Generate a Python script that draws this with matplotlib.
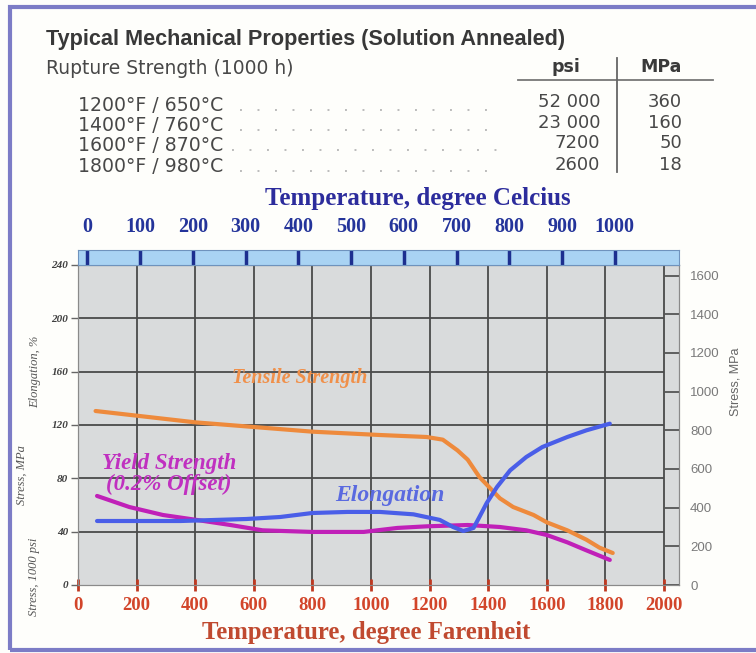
import matplotlib
matplotlib.use("Agg")
import matplotlib.pyplot as plt
from matplotlib.lines import Line2D
from matplotlib.patches import Rectangle

W, H = 756, 653

# 持久强度表
RUPTURE_TEMPS = ["1200°F / 650°C", "1400°F / 760°C", "1600°F / 870°C", "1800°F / 980°C"]
RUPTURE_PSI = ["52 000", "23 000", "7200", "2600"]
RUPTURE_MPA = ["360", "160", "50", "18"]

# 曲线数据 (°F, ksi / %)
TENSILE_F = [60, 400, 600, 800, 1030, 1190, 1245, 1295, 1330, 1370, 1405, 1440,
             1485, 1555, 1600, 1670, 1735, 1780, 1825]
TENSILE_KSI = [130.5, 122, 118.5, 115, 112.5, 111, 109, 101, 94, 81, 73, 65,
               58.5, 52.5, 47, 41, 34, 28, 24]

YIELD_F = [65, 175, 290, 405, 520, 630, 800, 975, 1090, 1190, 1330, 1440,
           1530, 1600, 1670, 1735, 1815]
YIELD_KSI = [66.8, 58.5, 52.5, 48.8, 45, 41, 39.8, 39.8, 42.8, 44, 45, 43.5,
             41, 37.5, 32, 26, 18.8]

ELONG_F = [65, 350, 575, 690, 800, 920, 1030, 1145, 1235, 1280, 1315, 1350,
           1370, 1395, 1430, 1475, 1530, 1585, 1670, 1735, 1815]
ELONG_PCT = [48, 48, 49.5, 51, 54, 54.8, 54.8, 53, 48.8, 43.5, 40.5, 42.8,
             51, 61.5, 73.5, 86, 96, 103.5, 111, 116, 121]

# 刻度
F_TICKS = [0, 200, 400, 600, 800, 1000, 1200, 1400, 1600, 1800, 2000]
C_TICKS = [0, 100, 200, 300, 400, 500, 600, 700, 800, 900, 1000]
KSI_TICKS = [0, 40, 80, 120, 160, 200, 240]
MPA_TICKS = [0, 200, 400, 600, 800, 1000, 1200, 1400, 1600]

SERIF = "Liberation Serif"
SANS = "Liberation Sans"
WIDE_SANS = "DejaVu Sans"
X_MAX = 601 / 0.293
KSI_TO_MPA = 6.895


def fx(px):
    return px / W


def fy(py):
    return 1 - py / H


def draw_table(fig):
    fig.text(fx(46), fy(45), "Typical Mechanical Properties (Solution Annealed)",
             family=SANS, weight="bold", size=15.6, color="#383838", va="baseline")
    fig.text(fx(46), fy(74), "Rupture Strength (1000 h)",
             family=WIDE_SANS, size=13.5, color="#484848", va="baseline")
    fig.text(fx(566), fy(72), "psi", family=WIDE_SANS, weight="bold", size=12.5,
             color="#3a3a3a", ha="center", va="baseline")
    fig.text(fx(661), fy(72), "MPa", family=WIDE_SANS, weight="bold", size=12.5,
             color="#3a3a3a", ha="center", va="baseline")
    fig.add_artist(Line2D([fx(518), fx(713)], [fy(80), fy(80)], color="#777777", lw=1.3))
    fig.add_artist(Line2D([fx(617), fx(617)], [fy(58), fy(172)], color="#666666", lw=1.3))

    label_y = [111, 131, 151, 172]
    value_y = [107, 128, 148, 170]
    for i in range(len(RUPTURE_TEMPS)):
        fig.text(fx(78), fy(label_y[i]), RUPTURE_TEMPS[i], family=WIDE_SANS, size=13.6,
                 color="#484848", va="baseline")
        fig.text(fx(600), fy(value_y[i]), RUPTURE_PSI[i], family=WIDE_SANS, size=13,
                 color="#484848", va="baseline", ha="right")
        fig.text(fx(682), fy(value_y[i]), RUPTURE_MPA[i], family=WIDE_SANS, size=13,
                 color="#484848", va="baseline", ha="right")
        start = 232 if i == 2 else 240
        fig.add_artist(Line2D([fx(start), fx(498)], [fy(label_y[i] - 1)] * 2,
                              color="#bcbcbc", lw=1.4, linestyle=(0, (1, 8))))


def main():
    fig = plt.figure(figsize=(W / 100, H / 100), dpi=100)
    fig.patch.set_facecolor("#fefefb")

    draw_table(fig)

    # 主图
    ax = fig.add_axes([fx(78), fy(585), 601 / W, 320 / H])
    ax.set_facecolor("#d9dbdc")
    ax.set_xlim(0, X_MAX)
    ax.set_ylim(0, 240)
    ax.vlines(F_TICKS[1:], 0, 240, color="#4a4a4a", lw=1.3, zorder=1)
    ax.hlines(KSI_TICKS[1:-1], 0, 2000, color="#4a4a4a", lw=1.3, zorder=1)
    for s in ax.spines.values():
        s.set_color("#8a8a8a")

    ax.plot(TENSILE_F, TENSILE_KSI, color="#ee8a3c", lw=3, solid_capstyle="round", zorder=3)
    ax.plot(YIELD_F, YIELD_KSI, color="#c020b8", lw=3, solid_capstyle="round", zorder=3)
    ax.plot(ELONG_F, ELONG_PCT, color="#4a5ee8", lw=3, solid_capstyle="round", zorder=4)

    ax.text(758, 155, "Tensile Strength", family=SERIF, style="italic", weight="bold",
            size=14.5, color="#f0904a", ha="center", va="center")
    ax.text(311, 83, "Yield Strength\n(0.2% Offset)", family=SERIF, style="italic",
            weight="bold", size=16.5, color="#c030c0", ha="center", va="center",
            linespacing=1.0)
    ax.text(1066, 67.5, "Elongation", family=SERIF, style="italic", weight="bold",
            size=17, color="#5a6ae0", ha="center", va="center")

    ax.set_xticks(F_TICKS)
    ax.set_xticklabels([str(v) for v in F_TICKS], family=SERIF, weight="bold",
                       size=13.5, color="#d2452a")
    ax.tick_params(axis="x", direction="inout", length=9, width=2,
                   color="#c03a22", pad=4)
    ax.set_yticks(KSI_TICKS)
    ax.set_yticklabels([str(v) for v in KSI_TICKS], family=SERIF, style="italic",
                       weight="bold", size=8, color="#404040")
    ax.tick_params(axis="y", direction="out", length=5, width=1, color="#666666", pad=2)

    # 右轴 MPa
    ax2 = ax.twinx()
    ax2.set_ylim(0, 240 * KSI_TO_MPA)
    ax2.set_yticks(MPA_TICKS)
    ax2.set_yticklabels([str(v) for v in MPA_TICKS], family=SANS, size=9.5, color="#7a7a7a")
    ax2.tick_params(axis="y", direction="in", length=11, width=1.3, color="#555555", pad=8)
    for s in ax2.spines.values():
        s.set_color("#8a8a8a")

    # 顶部摄氏温度条
    axs = fig.add_axes([fx(78), fy(265), 601 / W, 15 / H])
    axs.set_facecolor("#a9d3f3")
    axs.set_xlim(0, X_MAX)
    axs.set_yticks([])
    axs.xaxis.tick_top()
    axs.set_xticks([c * 1.8 + 32 for c in C_TICKS])
    axs.set_xticklabels([str(c) for c in C_TICKS], family=SERIF, weight="bold",
                        size=14.5, color="#24349a")
    axs.tick_params(axis="x", direction="in", length=11, width=2.5,
                    color="#1d2f8f", pad=9)
    for s in axs.spines.values():
        s.set_color("#6f93bd")

    fig.text(fx(418), fy(198), "Temperature, degree Celcius", family=SERIF,
             weight="bold", size=18, color="#2c2c9c", ha="center", va="center")
    fig.text(fx(366), fy(632), "Temperature, degree Farenheit", family=SERIF,
             weight="bold", size=17.8, color="#c04a30", ha="center", va="center")

    fig.text(fx(35), fy(372), "Elongation, %", family=SERIF, style="italic", size=9,
             color="#555555", rotation=90, ha="center", va="center")
    fig.text(fx(22), fy(475), "Stress, MPa", family=SERIF, style="italic", size=9,
             color="#555555", rotation=90, ha="center", va="center")
    fig.text(fx(34), fy(577), "Stress, 1000 psi", family=SERIF, style="italic", size=9,
             color="#555555", rotation=90, ha="center", va="center")
    fig.text(fx(735), fy(382), "Stress, MPa", family=SANS, size=9,
             color="#666666", rotation=90, ha="center", va="center")

    # 外框
    fig.add_artist(Rectangle((fx(10), fy(650)), 800 / W, 643 / H, fill=False,
                             edgecolor="#7c7cc6", lw=3, transform=fig.transFigure,
                             clip_on=False))

    fig.savefig("out.png", dpi=100, facecolor=fig.get_facecolor())
    plt.close(fig)


if __name__ == "__main__":
    main()
